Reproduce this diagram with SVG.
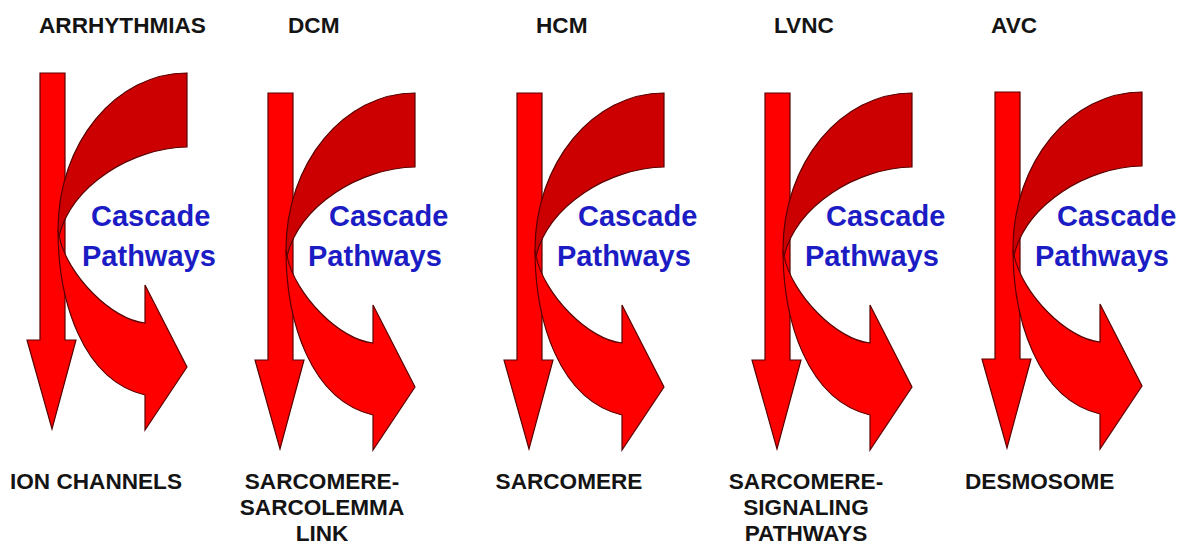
<svg xmlns="http://www.w3.org/2000/svg" xmlns:xlink="http://www.w3.org/1999/xlink" width="1187" height="546" viewBox="0 0 1187 546">
<style>
.hdr{font-family:"Liberation Sans",Arial,sans-serif;font-weight:bold;font-size:22.6px;fill:#141414}
.lbl{font-family:"Liberation Sans",Arial,sans-serif;font-weight:bold;font-size:22.6px;fill:#141414}
.cas{font-family:"Liberation Sans",Arial,sans-serif;font-weight:bold;font-size:29px;fill:#1c1cc4}
.bright{fill:#ff0000;stroke:#5a0000;stroke-width:1.2;stroke-linejoin:miter}
.dark{fill:#cc0000;stroke:#5a0000;stroke-width:1.2}
</style>
<defs>
<g id="unit">
<polygon class="bright" points="268,93 293,93 293,360 304,360 280,449 255,360 268,360"/>
<path class="bright" d="M286,250 C286,320 310,400 373,415 L373,450 L415,387 L373,305 L373,343 C340,340 295,295 287,256 Z"/>
<path class="dark" d="M415,93 L415,167 C360,168 300,205 287,256 L286,250 C286,163 344,93 415,93 Z"/>
</g>
</defs>
<rect width="1187" height="546" fill="#ffffff"/>
<g id="connectors"></g>
<g id="arrhythmias">
<text class="hdr" x="39" y="33">ARRHYTHMIAS</text>
<use xlink:href="#unit" transform="translate(-228,-20)"/>
<text class="cas" x="91" y="226">Cascade</text>
<text class="cas" x="82" y="266">Pathways</text>
<text class="lbl" x="10" y="489">ION CHANNELS</text>
</g>
<g id="dcm">
<text class="hdr" x="288" y="33">DCM</text>
<use xlink:href="#unit"/>
<text class="cas" x="329" y="226">Cascade</text>
<text class="cas" x="308" y="266">Pathways</text>
<text class="lbl" x="322" y="489" text-anchor="middle">SARCOMERE-</text>
<text class="lbl" x="322" y="515" text-anchor="middle">SARCOLEMMA</text>
<text class="lbl" x="322" y="541" text-anchor="middle">LINK</text>
</g>
<g id="hcm">
<text class="hdr" x="536" y="33">HCM</text>
<use xlink:href="#unit" transform="translate(249,0)"/>
<text class="cas" x="578" y="226">Cascade</text>
<text class="cas" x="557" y="266">Pathways</text>
<text class="lbl" x="569" y="489" text-anchor="middle">SARCOMERE</text>
</g>
<g id="lvnc">
<text class="hdr" x="774" y="33">LVNC</text>
<use xlink:href="#unit" transform="translate(497,0)"/>
<text class="cas" x="826" y="226">Cascade</text>
<text class="cas" x="805" y="266">Pathways</text>
<text class="lbl" x="806" y="489" text-anchor="middle">SARCOMERE-</text>
<text class="lbl" x="806" y="515" text-anchor="middle">SIGNALING</text>
<text class="lbl" x="806" y="541" text-anchor="middle">PATHWAYS</text>
</g>
<g id="avc">
<text class="hdr" x="991" y="33">AVC</text>
<use xlink:href="#unit" transform="translate(727,-1)"/>
<text class="cas" x="1057" y="226">Cascade</text>
<text class="cas" x="1035" y="266">Pathways</text>
<text class="lbl" x="965" y="489">DESMOSOME</text>
</g>
</svg>
